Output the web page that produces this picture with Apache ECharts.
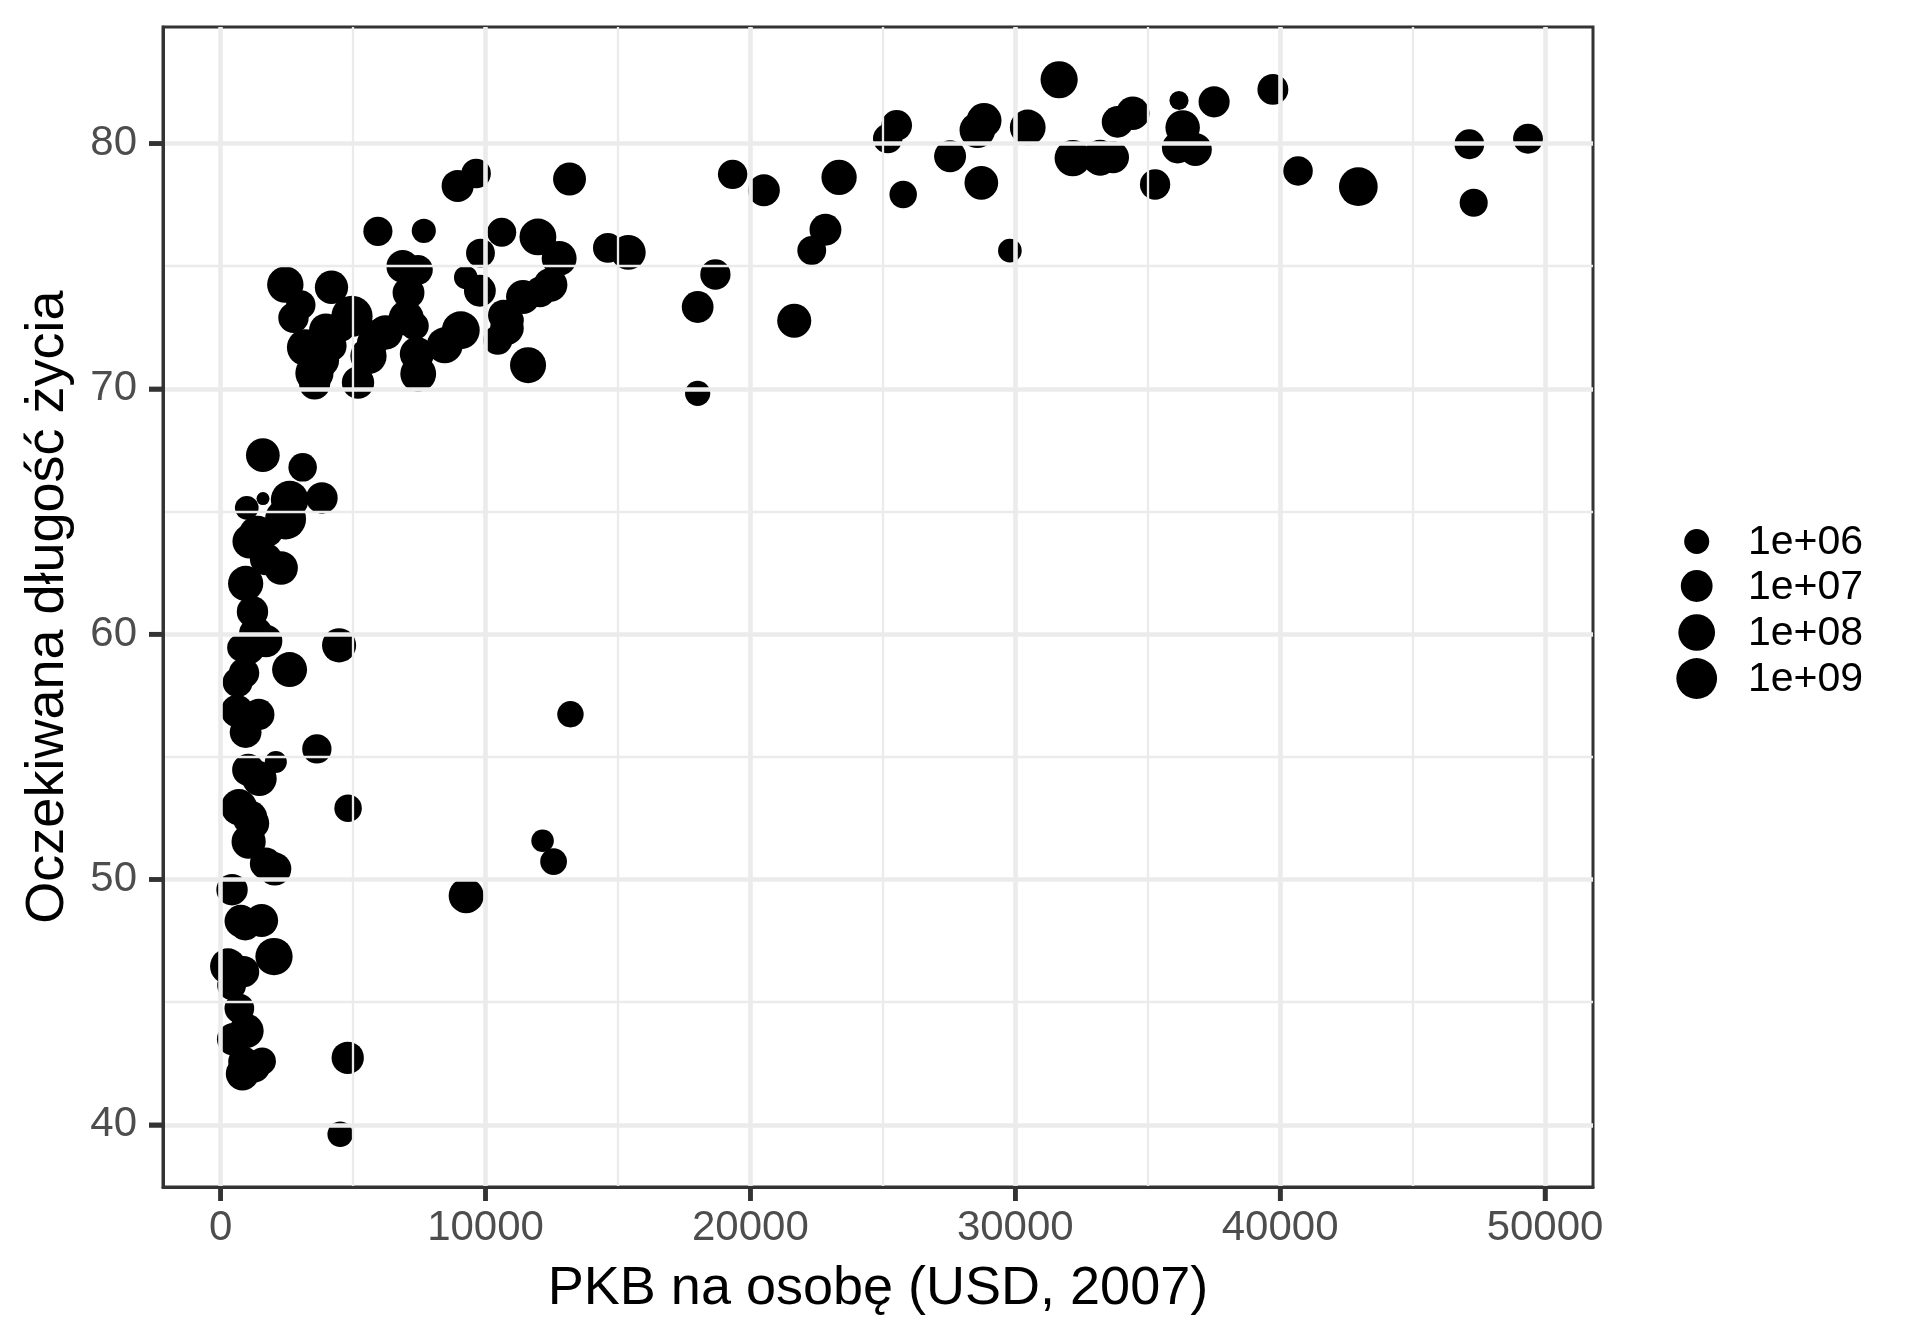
<!DOCTYPE html>
<html><head><meta charset="utf-8">
<script src="https://cdn.jsdelivr.net/npm/echarts@6/dist/echarts.min.js"></script>
<style>html,body{margin:0;padding:0;background:#fff}#c{width:1920px;height:1344px}</style>
</head><body><div id="c"></div><script>
const countries=["Afghanistan","Albania","Algeria","Angola","Argentina","Australia","Austria","Bahrain","Bangladesh","Belgium","Benin","Bolivia","Bosnia and Herzegovina","Botswana","Brazil","Bulgaria","Burkina Faso","Burundi","Cambodia","Cameroon","Canada","Central African Republic","Chad","Chile","China","Colombia","Comoros","Congo, Dem. Rep.","Congo, Rep.","Costa Rica","Cote d'Ivoire","Croatia","Cuba","Czech Republic","Denmark","Djibouti","Dominican Republic","Ecuador","Egypt","El Salvador","Equatorial Guinea","Eritrea","Ethiopia","Finland","France","Gabon","Gambia","Germany","Ghana","Greece","Guatemala","Guinea","Guinea-Bissau","Haiti","Honduras","Hong Kong, China","Hungary","Iceland","India","Indonesia","Iran","Iraq","Ireland","Israel","Italy","Jamaica","Japan","Jordan","Kenya","Korea, Dem. Rep.","Korea, Rep.","Kuwait","Lebanon","Lesotho","Liberia","Libya","Madagascar","Malawi","Malaysia","Mali","Mauritania","Mauritius","Mexico","Mongolia","Montenegro","Morocco","Mozambique","Myanmar","Namibia","Nepal","Netherlands","New Zealand","Nicaragua","Niger","Nigeria","Norway","Oman","Pakistan","Panama","Paraguay","Peru","Philippines","Poland","Portugal","Puerto Rico","Reunion","Romania","Rwanda","Sao Tome and Principe","Saudi Arabia","Senegal","Serbia","Sierra Leone","Singapore","Slovak Republic","Slovenia","Somalia","South Africa","Spain","Sri Lanka","Sudan","Swaziland","Sweden","Switzerland","Syria","Taiwan","Tanzania","Thailand","Togo","Trinidad and Tobago","Tunisia","Turkey","Uganda","United Kingdom","United States","Uruguay","Venezuela","Vietnam","West Bank and Gaza","Yemen, Rep.","Zambia","Zimbabwe"];
const gdpPercap=[974.6,5937.0,6223.4,4797.2,12779.4,34435.4,36126.5,29796.0,1391.3,33692.6,1441.3,3822.1,7446.3,12569.9,9065.8,10680.8,1217.0,430.1,1713.8,2042.1,36319.2,706.0,1704.1,13171.6,4959.1,7006.6,986.1,277.6,3632.6,9645.1,1544.8,14619.2,8948.1,22833.3,35278.4,2082.5,6025.4,6873.3,5581.2,5728.4,12154.1,641.4,690.8,33207.1,30470.0,13206.5,752.7,32170.4,1327.6,27538.4,5186.1,942.7,579.2,1201.6,3548.3,39725.0,18008.9,36180.8,2452.2,3540.7,11605.7,4471.1,40676.0,25523.3,28569.7,7320.9,31656.1,4519.5,1463.2,1593.1,23348.1,47307.0,10461.1,1569.3,414.5,12057.5,1044.8,759.3,12451.7,1042.6,1803.2,10957.0,11977.6,3095.8,9253.9,3820.2,823.7,944.0,4811.1,1091.4,36797.9,25185.0,2749.3,619.7,2014.0,49357.2,22316.2,2605.9,9809.2,4172.8,7408.9,3190.5,15389.9,20509.6,19328.7,7670.1,10808.5,863.1,1598.4,21654.8,1712.5,9786.5,862.5,47143.2,18678.3,25768.3,926.1,9269.7,28821.1,3970.1,2602.4,4513.5,33859.7,37506.4,4184.5,28718.3,1107.5,7458.4,883.0,18008.5,7092.9,8458.3,1056.4,33203.3,42951.7,10611.5,11415.8,2441.6,3025.3,2280.8,1271.2,469.7];
const lifeExp=[43.828,76.423,72.301,42.731,75.320,81.235,79.829,75.635,64.062,79.441,56.728,65.554,74.852,50.728,72.390,73.005,52.295,49.580,59.723,50.430,80.653,44.741,50.651,78.553,72.961,72.889,65.152,46.462,55.322,78.782,48.328,75.748,78.273,76.486,78.332,54.791,72.235,74.994,71.338,71.878,51.579,58.040,52.947,79.313,80.657,56.735,59.448,79.406,60.022,79.483,70.259,56.007,46.388,60.916,70.198,82.208,73.338,81.757,64.698,70.650,70.964,59.545,78.885,80.745,80.546,72.567,82.603,72.535,54.110,67.297,78.623,77.588,71.993,42.592,45.678,73.952,59.443,48.303,74.241,54.467,64.164,72.801,76.195,66.803,74.543,71.164,42.082,62.069,52.906,63.785,79.762,80.204,72.899,56.867,46.859,80.196,75.640,65.483,75.537,71.752,71.421,71.688,75.563,78.098,78.746,76.442,72.476,46.242,65.528,72.777,63.062,74.002,42.568,79.972,74.663,77.926,48.159,49.339,80.941,72.396,58.556,39.613,80.884,81.701,74.143,78.400,52.517,70.616,58.420,69.819,73.923,71.777,51.542,79.425,78.242,76.384,73.747,74.249,73.422,62.698,42.384,43.487];
const pop=[31889923,3600523,33333216,12420476,40301927,20434176,8199783,708573,150448339,10392226,8078314,9119152,4552198,1639131,190010647,7322858,14326203,8390505,14131858,17696293,33390141,4369038,10238807,16284741,1318683096,44227550,710960,64606759,3800610,4133884,18013409,4493312,11416987,10228744,5468120,496374,9319622,13755680,80264543,6939688,551201,4906585,76511887,5238460,61083916,1454867,1688359,82400996,22873338,10706290,12572928,9947814,1472041,8502814,7483763,6980412,9956108,301931,1110396331,223547000,69453570,27499638,4109086,6426679,58147733,2780132,127467972,6053193,35610177,23301725,49044790,2505559,3921278,2012649,3193942,6036914,19167654,13327079,24821286,12031795,3270065,1250882,108700891,2874127,684736,33757175,19951656,47761980,2055080,28901790,16570613,4115771,5675356,12894865,135031164,4627926,3204897,169270617,3242173,6667147,28674757,91077287,38518241,10642836,3942491,798094,22276056,8860588,199579,27601038,12267493,10150265,6144562,4553009,5447502,2009245,9118773,43997828,40448191,20378239,42292929,1133066,9031088,7554661,19314747,23174294,38139640,65068149,5701579,1056608,10276158,71158647,29170398,60776238,301139947,3447496,26084662,85262356,4018332,22211743,11746035,12311143];
const xTicks=[0,10000,20000,30000,40000,50000];
const xMinor=[5000,15000,25000,35000,45000];
const yTicks=[40,50,60,70,80];
const yMinor=[45,55,65,75];
const sizeBreaks=[1e6,1e7,1e8,1e9];
const sizeBreakLabels=['1e+06','1e+07','1e+08','1e+09'];

const FONT='"Liberation Sans", Arial, Helvetica, sans-serif';
const lmin=Math.log10(Math.min(...pop)), lmax=Math.log10(Math.max(...pop));
function diam(p){const s=1+5*Math.sqrt(Math.max(0,(Math.log10(p)-lmin))/(lmax-lmin));return 5.65*s+7.3;}
const gx0=Math.min(...gdpPercap), gx1=Math.max(...gdpPercap), gxr=gx1-gx0;
const ly0=Math.min(...lifeExp), ly1=Math.max(...lifeExp), lyr=ly1-ly0;
const xLo=gx0-0.05*gxr, xHi=gx1+0.05*gxr, yLo=ly0-0.05*lyr, yHi=ly1+0.05*lyr;

const gridCol='#EBEBEB';
const gridLines=[].concat(
  xMinor.map(v=>({xAxis:v,lineStyle:{width:2.3,color:gridCol,type:'solid'}})),
  yMinor.map(v=>({yAxis:v,lineStyle:{width:2.3,color:gridCol,type:'solid'}})),
  xTicks.map(v=>({xAxis:v,lineStyle:{width:4.6,color:gridCol,type:'solid'}})),
  yTicks.map(v=>({yAxis:v,lineStyle:{width:4.6,color:gridCol,type:'solid'}}))
);

const legendY=[541.5,586,632.5,678.5];
const legendGraphics=[];
sizeBreaks.forEach((b,i)=>{
  legendGraphics.push({type:'circle',shape:{cx:1696.7,cy:legendY[i],r:diam(b)/2},style:{fill:'#000'},silent:true});
  legendGraphics.push({type:'text',x:1748,y:legendY[i]+1.5,style:{text:sizeBreakLabels[i],font:'41px '+FONT,fill:'#000',verticalAlign:'middle',align:'left'},silent:true});
});

const TICK_LEN=14, TICK_W=4.5, TICK_COL='#333333';
const chart=echarts.init(document.getElementById('c'),null,{renderer:'canvas'});
chart.setOption({
  animation:false,
  grid:{left:163,top:27,right:327,bottom:157,show:true,borderColor:'#333333',borderWidth:3},
  xAxis:{type:'value',min:xLo,max:xHi,zlevel:1,
    name:'PKB na osobę (USD, 2007)',nameLocation:'middle',nameGap:75,
    nameTextStyle:{fontSize:54,fontFamily:FONT,color:'#000'},
    axisLine:{show:true,onZero:false,lineStyle:{color:'#333333',width:3}},
    splitLine:{show:false},minorSplitLine:{show:false},
    axisTick:{show:true,length:TICK_LEN,customValues:xTicks,lineStyle:{color:TICK_COL,width:TICK_W}},
    axisLabel:{customValues:xTicks,margin:20,fontSize:42,fontFamily:FONT,color:'#4D4D4D',formatter:v=>String(v)}},
  yAxis:{type:'value',min:yLo,max:yHi,zlevel:1,
    name:'Oczekiwana długość życia',nameLocation:'middle',nameGap:88,nameRotate:90,
    nameTextStyle:{fontSize:54,fontFamily:FONT,color:'#000'},
    axisLine:{show:true,onZero:false,lineStyle:{color:'#333333',width:3}},
    splitLine:{show:false},minorSplitLine:{show:false},
    axisTick:{show:true,length:TICK_LEN,customValues:yTicks,lineStyle:{color:TICK_COL,width:TICK_W}},
    axisLabel:{customValues:yTicks,margin:26,fontSize:42,fontFamily:FONT,color:'#4D4D4D',formatter:v=>String(v)}},
  series:[
    {type:'line',data:[],z:1,silent:true,markLine:{silent:true,symbol:['none','none'],label:{show:false},animation:false,data:gridLines}},
    {type:'scatter',z:3,silent:true,
     data:gdpPercap.map((g,i)=>[g,lifeExp[i],pop[i],countries[i]]),
     symbol:'circle',symbolSize:v=>diam(v[2]),
     itemStyle:{color:'#000',opacity:1}}
  ],
  graphic:legendGraphics
});

// redundant tick marks placed through the chart's own scale conversion (same spots as axisTick)
const tickGraphics=[];
xTicks.forEach(v=>{
  const p=chart.convertToPixel({gridIndex:0},[v,yLo]);
  if(p&&isFinite(p[0])) tickGraphics.push({type:'line',silent:true,zlevel:1,z:100,shape:{x1:p[0],y1:p[1],x2:p[0],y2:p[1]+TICK_LEN},style:{stroke:TICK_COL,lineWidth:TICK_W}});
});
yTicks.forEach(v=>{
  const p=chart.convertToPixel({gridIndex:0},[xLo,v]);
  if(p&&isFinite(p[1])) tickGraphics.push({type:'line',silent:true,zlevel:1,z:100,shape:{x1:p[0],y1:p[1],x2:p[0]-TICK_LEN,y2:p[1]},style:{stroke:TICK_COL,lineWidth:TICK_W}});
});
chart.setOption({graphic:legendGraphics.concat(tickGraphics)});
</script></body></html>
